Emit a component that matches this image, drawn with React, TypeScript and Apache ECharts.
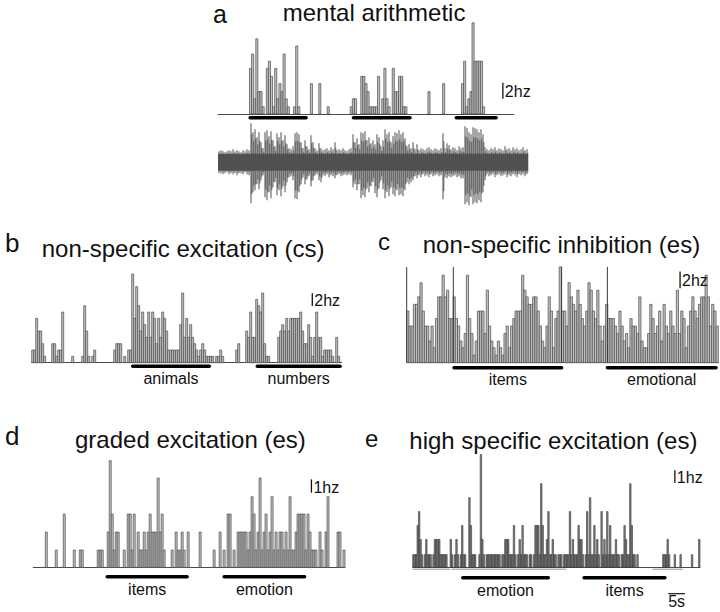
import React, { useEffect, useRef } from "react";
import * as echarts from "echarts";

const FONT = "'Liberation Sans', Arial, Helvetica, sans-serif";

// ---------- panel a : mental arithmetic (bin index, Hz) ----------
const aRate: [number, number][] = [
  [15, 5.7], [16, 7.5], [17, 1.9], [18, 9.4], [19, 2.8], [20, 2.8], [21, 0.9], [23, 5.7], [24, 6.6], [25, 4.7],
  [26, 0.9], [27, 5.7], [28, 1.9], [29, 3.8], [30, 2.8], [31, 7.5], [32, 1.9], [33, 0.9], [36, 0.9], [37, 8.5],
  [38, 0.9], [44, 3.8], [48, 3.8], [52, 0.9],
  [63, 0.9], [64, 1.9], [65, 1.9], [68, 4.7], [69, 4.7], [70, 3.8], [71, 2.8], [72, 0.9], [73, 0.9], [74, 0.9],
  [75, 0.9], [76, 4.7], [78, 1.9], [79, 5.7], [80, 1.9], [81, 0.9], [83, 5.7], [84, 2.8], [85, 2.8], [86, 4.7],
  [87, 4.7], [88, 0.9], [89, 0.9], [100, 2.8], [107, 3.8],
  [116, 3.8], [117, 6.6], [118, 0.9], [119, 1.9], [120, 2.8], [121, 11.4], [122, 6.6], [123, 6.6], [124, 6.6],
  [125, 6.6], [126, 0.9],
];
const aStim: [number, number][] = [[15.3, 42], [64.5, 77.5], [77.5, 91.5], [113.5, 132.5]];
const aStimLabels = ["", "", "", ""];

// raw recording envelope (upward / downward excursion per 2-px bin)
const traceUp = [
  11, 12, 11, 10, 11, 12, 11, 13, 11, 12,
  11, 10, 12, 11, 13, 12, 39, 30, 33, 25,
  30, 20, 14, 30, 32, 26, 31, 22, 16, 29,
  25, 30, 22, 27, 18, 14, 13, 16, 29, 30,
  28, 20, 14, 22, 16, 13, 27, 20, 14, 12,
  19, 14, 12, 13, 14, 12, 15, 13, 20, 12,
  13, 12, 14, 12, 11, 13, 14, 28, 20, 24,
  18, 30, 29, 31, 22, 25, 19, 22, 18, 28,
  25, 16, 22, 33, 28, 30, 20, 26, 30, 29,
  32, 28, 30, 24, 16, 18, 14, 20, 13, 18,
  12, 14, 13, 12, 14, 15, 13, 12, 14, 13,
  12, 14, 29, 14, 19, 17, 13, 15, 14, 12,
  16, 14, 15, 36, 34, 30, 28, 35, 34, 33,
  30, 33, 28, 15, 13, 12, 14, 13, 15, 12,
  14, 13, 12, 16, 13, 14, 12, 15, 13, 14,
  12, 13, 15, 12, 13,
];
const traceDown = [
  11, 11, 12, 11, 10, 12, 11, 12, 11, 13,
  11, 11, 12, 10, 12, 13, 41, 30, 28, 22,
  27, 18, 13, 35, 38, 30, 36, 25, 20, 33,
  28, 34, 24, 30, 20, 15, 14, 18, 36, 37,
  30, 22, 15, 22, 17, 14, 24, 18, 13, 12,
  18, 20, 13, 14, 12, 15, 13, 14, 16, 13,
  12, 14, 13, 12, 13, 12, 13, 25, 22, 28,
  22, 36, 33, 35, 26, 30, 24, 20, 31, 35,
  26, 18, 27, 36, 30, 34, 25, 32, 34, 28,
  33, 32, 34, 28, 20, 22, 20, 18, 14, 16,
  13, 15, 12, 14, 13, 15, 12, 14, 13, 12,
  14, 13, 37, 15, 16, 14, 15, 14, 13, 15,
  14, 16, 16, 42, 40, 43, 35, 42, 40, 41,
  38, 40, 30, 18, 12, 14, 13, 12, 15, 13,
  12, 14, 13, 12, 15, 13, 14, 12, 13, 15,
  12, 13, 12, 14, 12,
];
const TRACE_NOISE = 8.5;

// ---------- panel b : non-specific excitation (cs) ----------
const bRate: [number, number][] = [
  [0, 2], [1, 2], [2, 7], [3, 5], [4, 5], [5, 3], [6, 1], [10, 3], [11, 3], [12, 1], [13, 2], [14, 2], [15, 8],
  [20, 1], [25, 1], [26, 9], [27, 5], [28, 1], [30, 1], [31, 2],
  [41, 2], [42, 3], [43, 3], [44, 3], [46, 1], [48, 2], [49, 2], [50, 14], [51, 7], [52, 12], [53, 9], [54, 5],
  [55, 8], [56, 6], [57, 4], [58, 8], [59, 4], [60, 8], [61, 7], [62, 3], [63, 7], [64, 4], [65, 8], [66, 7],
  [67, 5], [68, 2], [69, 2], [70, 2], [71, 2], [72, 2], [73, 2], [74, 6], [75, 11], [76, 4], [77, 7], [78, 4],
  [79, 6], [80, 4], [81, 3], [82, 2], [83, 1], [84, 2], [85, 3], [86, 2], [87, 1], [88, 1], [89, 1], [90, 1],
  [92, 1], [93, 1], [94, 2], [95, 1],
  [102, 2], [103, 3], [107, 5], [108, 4], [109, 8], [110, 4], [111, 4], [112, 10], [113, 9], [114, 8], [115, 11],
  [116, 3], [117, 1], [118, 1],
  [123, 4], [124, 5], [125, 6], [126, 5], [127, 7], [128, 5], [129, 7], [130, 7], [131, 7], [132, 7], [133, 7],
  [134, 8], [135, 5], [136, 3], [137, 3], [138, 6], [139, 4], [140, 1], [141, 4], [142, 8], [143, 4], [144, 4],
  [145, 1], [146, 2], [147, 2], [148, 2], [149, 2], [150, 1], [152, 4], [153, 1],
];
const bStim: [number, number][] = [[50.5, 88.8], [112.8, 154.2]];
const bStimLabels = ["animals", "numbers"];

// ---------- panel c : non-specific inhibition (es) ----------
const cRate = [
  6.2, 4.4, 4.4, 7, 7, 7.9, 9.6, 6.2, 4.4, 4.4,
  2.6, 4.4, 1.8, 5.3, 7.9, 7.9, 10.5, 7.9, 8.7, 5.3,
  5.3, 7.9, 5.3, 4.4, 2.6, 1.8, 3.5, 10.5, 5.3, 3.5,
  0.9, 2.6, 6.2, 6.2, 6.2, 3.5, 8.7, 4.4, 2.6, 1.8,
  0.9, 2.6, 1.8, 0.9, 3.5, 4.4, 1.8, 4.4, 5.3, 6.2,
  6.2, 6.2, 10.5, 8.7, 7.9, 7, 7, 7.9, 7.9, 6.2,
  4.4, 2.6, 1.8, 4.4, 7.9, 6.2, 1.8, 5.3, 6.2, 11.5,
  6.2, 6.2, 4.4, 9.6, 7.9, 7, 6.2, 8.7, 7, 5.3,
  4.4, 6.2, 9.6, 8.7, 6.2, 5.3, 8.7, 4.4, 2.6, 4.4,
  7, 5.3, 5.3, 5.3, 4.4, 3.5, 6.2, 4.4, 2.6, 3.5,
  1.8, 5.3, 4.4, 4.4, 3.5, 7.9, 2.6, 1.8, 1.8, 3.5,
  7, 5.3, 3.5, 4.4, 6.2, 2.6, 7, 4.4, 3.5, 6.2,
  4.4, 3.5, 8.7, 3.5, 6.2, 5.3, 1.8, 4.4, 6.2, 7.9,
  6.2, 5.3, 7, 7.9, 7.9, 10.5, 7.9, 4.4, 7, 6.2, 4.4,
];
const cMarkers = [0, 21.1, 70.1, 90.8];
const cMarkerHeight = 11.5;
const cStim: [number, number][] = [[21.4, 70.1], [90.8, 140]];
const cStimLabels = ["items", "emotional"];

// ---------- panel d : graded excitation (es) ----------
const dRate: [number, number][] = [
  [6, 2.65], [11, 1.3], [15, 4], [20, 1.3], [23, 1.3], [24, 1.3], [32, 1.3], [33, 1.3], [34, 1.3], [37, 2.65],
  [38, 8], [39, 4], [40, 1.3], [41, 2.65], [42, 2.65], [45, 1.3], [47, 4], [48, 4], [49, 1.3], [50, 4],
  [52, 2.65], [53, 1.3], [54, 1.3], [55, 2.65], [56, 1.3], [57, 2.65], [58, 4], [59, 2.65], [60, 2.65],
  [61, 2.65], [62, 6.7], [63, 2.65], [64, 4], [65, 1.3], [69, 1.3], [71, 2.65], [72, 1.3], [73, 1.3],
  [74, 2.65], [75, 1.3], [77, 2.65], [83, 2.65], [90, 1.3], [93, 2.65], [95, 1.3], [97, 4], [98, 4],
  [100, 1.3], [102, 2.65], [103, 2.65], [104, 2.65], [105, 2.65], [106, 2.65], [107, 1.3], [108, 2.65],
  [109, 5.3], [110, 4], [111, 1.3], [112, 2.65], [113, 6.7], [114, 1.3], [115, 2.65], [116, 4], [117, 1.3],
  [118, 2.65], [119, 5.3], [120, 1.3], [121, 2.65], [122, 1.3], [123, 2.65], [124, 2.65], [125, 1.3],
  [126, 2.65], [127, 1.3], [128, 5.3], [129, 1.3], [130, 1.3], [131, 2.65], [132, 4], [133, 4], [134, 4],
  [135, 4], [136, 1.3], [137, 4], [138, 2.65], [139, 1.3], [140, 1.3], [141, 1.3], [143, 2.65], [144, 1.3],
  [146, 2.65], [147, 5.3], [152, 2.65], [153, 2.65], [155, 1.3],
];
const dStim: [number, number][] = [[37, 77], [95.5, 135.8]];
const dStimLabels = ["items", "emotion"];

// ---------- panel e : high specific excitation (es) ----------
const eRate = [
  1, 1, 1, 3.3, 4.4, 2.2, 1, 0, 1, 2.2,
  1, 1, 1, 0, 1, 2.2, 2.2, 2.2, 2.2, 1,
  1, 1, 1, 1, 0, 0, 2.2, 1, 0, 1,
  2.2, 1, 0, 1, 3.3, 1, 1, 0, 0, 5.5,
  3.3, 1, 1, 1, 0, 0, 1, 8.9, 2.2, 1,
  0, 1, 1, 1, 1, 1, 1, 1, 1, 1,
  1, 0, 1, 1, 2.2, 2.2, 2.2, 1, 1, 1,
  3.3, 1, 0, 1, 2.2, 1, 3.3, 1, 1, 1,
  0, 1, 1, 0, 1, 3.3, 3.3, 3.3, 1, 6.6,
  3.3, 1, 1, 2.2, 4.4, 1, 1, 2.2, 1, 1,
  0, 1, 1, 1, 0, 1, 1, 1, 1, 4.4,
  1, 2.2, 1, 1, 1, 3.3, 2.2, 2.2, 1, 0,
  1, 4.4, 1, 5.5, 1, 1, 3.3, 1, 2.2, 1,
  0, 4.4, 1, 2.2, 1, 4.4, 1, 3.3, 1, 1,
  1, 2.2, 1, 1, 0, 1, 1, 3.3, 2.2, 1,
  1, 6.6, 3.3, 1, 1, 0, 1, 0, 0, 0,
  0, 0, 0, 0, 0, 0, 0, 0, 0, 0,
  0, 0, 0, 0, 1, 1, 1, 2.2, 1, 0,
  0, 0, 1, 0, 0, 0, 1, 0, 0, 0,
  0, 0, 0, 0, 1, 0, 0, 0, 0, 2.2,
];
const eGaps: [number, number][] = [[0, 26], [27, 107], [167, 188]];
const eStim: [number, number][] = [[34.8, 94.4], [119.3, 175.6]];
const eStimLabels = ["emotion", "items"];
const E_BIN_SEC = 0.43;
const eTimeBar: [number, number] = [177.9, 5];

// scale bars: [bin, fromHz, toHz]
const scaleA: [number, number, number] = [135.7, 1.9, 3.9];
const scaleB: [number, number, number] = [140.3, 8.95, 10.95];
const scaleC: [number, number, number] = [123.7, 8.93, 10.93];
const scaleD: [number, number, number] = [139.2, 5.6, 6.6];
const scaleE: [number, number, number] = [182.5, 6.66, 7.66];

// ---------- layout ----------
const GRIDS = [
  { left: 218, top: 18, width: 296, height: 96, xMax: 141, yMin: 0, yMax: 12, axis: true },      // a hist
  { left: 218, top: 117.3, width: 310, height: 90, xMax: 155, yMin: -45, yMax: 45, axis: false }, // a trace
  { left: 31.7, top: 261.4, width: 310, height: 101.3, xMax: 155, yMin: 0, yMax: 16, axis: true }, // b
  { left: 406.7, top: 262.7, width: 311.6, height: 100, xMax: 141, yMin: 0, yMax: 12, axis: true }, // c
  { left: 33.3, top: 460.7, width: 311.7, height: 106.7, xMax: 156, yMin: 0, yMax: 8, axis: true }, // d
  { left: 412.7, top: 453.3, width: 287.3, height: 114, xMax: 200, yMin: 0, yMax: 9, axis: true },  // e
];

const LIGHT = { fill: "#c2c2c2", stroke: "#4a4a4a", lineWidth: 0.7 };
const DARK = { fill: "#858585", stroke: "#333333", lineWidth: 0.6 };

function histSeries(gi: number, data: [number, number][], style: any) {
  return {
    type: "custom",
    xAxisIndex: gi,
    yAxisIndex: gi,
    silent: true,
    clip: false,
    data,
    renderItem: (_p: any, api: any) => {
      const x = api.value(0);
      const v = api.value(1);
      if (!v) return null;
      const p0 = api.coord([x, 0]);
      const p1 = api.coord([x + 1, v]);
      return {
        type: "rect",
        shape: { x: p0[0], y: p1[1], width: p1[0] - p0[0], height: p0[1] - p1[1] },
        style: { ...style },
      };
    },
  };
}

function stimSeries(gi: number, intervals: [number, number][], labels: string[], barOff: number, labelOff: number) {
  return {
    type: "custom",
    xAxisIndex: gi,
    yAxisIndex: gi,
    silent: true,
    clip: false,
    data: intervals.map(([s, e]) => [s, e]),
    renderItem: (params: any, api: any) => {
      const p0 = api.coord([api.value(0), 0]);
      const p1 = api.coord([api.value(1), 0]);
      const y = p0[1] + barOff;
      const children: any[] = [
        { type: "line", shape: { x1: p0[0], y1: y, x2: p1[0], y2: y }, style: { stroke: "#000", lineWidth: 3.4, lineCap: "round" } },
      ];
      const lab = labels[params.dataIndex];
      if (lab) {
        children.push({
          type: "text",
          x: (p0[0] + p1[0]) / 2,
          y: p0[1] + labelOff,
          style: { text: lab, fontSize: 16, fontFamily: FONT, fill: "#111", align: "center", verticalAlign: "middle" },
        });
      }
      return { type: "group", children };
    },
  };
}

function scaleSeries(gi: number, sc: [number, number, number], label: string) {
  return {
    type: "custom",
    xAxisIndex: gi,
    yAxisIndex: gi,
    silent: true,
    clip: false,
    data: [sc],
    renderItem: (_p: any, api: any) => {
      const a = api.coord([api.value(0), api.value(1)]);
      const b = api.coord([api.value(0), api.value(2)]);
      return {
        type: "group",
        children: [
          { type: "line", shape: { x1: a[0], y1: a[1], x2: b[0], y2: b[1] }, style: { stroke: "#111", lineWidth: 1.3 } },
          {
            type: "text",
            x: a[0] + 2,
            y: (a[1] + b[1]) / 2 + 1,
            style: { text: label, fontSize: 16, fontFamily: FONT, fill: "#111", align: "left", verticalAlign: "middle" },
          },
        ],
      };
    },
  };
}

function buildOption() {
  const series: any[] = [];

  // panel a histogram + recording
  series.push(histSeries(0, aRate, LIGHT));
  series.push({
    type: "custom",
    xAxisIndex: 1,
    yAxisIndex: 1,
    silent: true,
    clip: false,
    data: traceUp.map((u, i) => [i, u, traceDown[i]]),
    renderItem: (_p: any, api: any) => {
      const i = api.value(0);
      const up = api.value(1);
      const dn = api.value(2);
      const c0 = api.coord([i, TRACE_NOISE]);
      const c1 = api.coord([i + 1, -TRACE_NOISE]);
      const t = api.coord([i + 0.5, up]);
      const b = api.coord([i + 0.5, -dn]);
      const t2 = api.coord([i + 0.9, up * 0.72]);
      const b2 = api.coord([i + 0.9, -dn * 0.78]);
      return {
        type: "group",
        children: [
          { type: "rect", shape: { x: c0[0], y: c0[1], width: c1[0] - c0[0], height: c1[1] - c0[1] }, style: { fill: "#494949" } },
          { type: "line", shape: { x1: t[0], y1: t[1], x2: b[0], y2: b[1] }, style: { stroke: "#5e5e5e", lineWidth: 1.1 } },
          { type: "line", shape: { x1: t2[0], y1: t2[1], x2: b2[0], y2: b2[1] }, style: { stroke: "#4a4a4a", lineWidth: 0.9 } },
        ],
      };
    },
  });
  series.push(stimSeries(0, aStim, aStimLabels, 3.7, 14));
  series.push(scaleSeries(0, scaleA, "2hz"));

  // panel b
  series.push(histSeries(2, bRate, LIGHT));
  series.push(stimSeries(2, bStim, bStimLabels, 3.6, 15.3));
  series.push(scaleSeries(2, scaleB, "2hz"));

  // panel c
  series.push(histSeries(3, cRate.map((v, i) => [i, v] as [number, number]), LIGHT));
  series.push({
    type: "custom",
    xAxisIndex: 3,
    yAxisIndex: 3,
    silent: true,
    clip: false,
    data: cMarkers.map((m) => [m, cMarkerHeight]),
    renderItem: (_p: any, api: any) => {
      const a = api.coord([api.value(0), 0]);
      const b = api.coord([api.value(0), api.value(1)]);
      return { type: "line", shape: { x1: a[0], y1: a[1], x2: b[0], y2: b[1] }, style: { stroke: "#3a3a3a", lineWidth: 1 } };
    },
  });
  series.push(stimSeries(3, cStim, cStimLabels, 5, 16.3));
  series.push(scaleSeries(3, scaleC, "2hz"));

  // panel d
  series.push(histSeries(4, dRate, LIGHT));
  series.push(stimSeries(4, dStim, dStimLabels, 9.4, 21.7));
  series.push(scaleSeries(4, scaleD, "1hz"));

  // panel e
  series.push({
    type: "custom",
    xAxisIndex: 5,
    yAxisIndex: 5,
    silent: true,
    clip: false,
    data: eGaps.map(([s, e]) => [s, e]),
    renderItem: (_p: any, api: any) => {
      const a = api.coord([api.value(0), 0]);
      const b = api.coord([api.value(1), 0]);
      return { type: "line", shape: { x1: a[0], y1: a[1] + 2, x2: b[0], y2: b[1] + 2 }, style: { stroke: "#b4b4b4", lineWidth: 1.5 } };
    },
  });
  series.push(histSeries(5, eRate.map((v, i) => [i, v] as [number, number]), DARK));
  series.push(stimSeries(5, eStim, eStimLabels, 10.4, 22.7));
  series.push(scaleSeries(5, scaleE, "1hz"));
  series.push({
    type: "custom",
    xAxisIndex: 5,
    yAxisIndex: 5,
    silent: true,
    clip: false,
    data: [[eTimeBar[0], eTimeBar[0] + eTimeBar[1] / E_BIN_SEC]],
    renderItem: (_p: any, api: any) => {
      const a = api.coord([api.value(0), 0]);
      const b = api.coord([api.value(1), 0]);
      return {
        type: "group",
        children: [
          { type: "line", shape: { x1: a[0], y1: a[1] + 26.4, x2: b[0], y2: b[1] + 26.4 }, style: { stroke: "#111", lineWidth: 1.2 } },
          {
            type: "text",
            x: (a[0] + b[0]) / 2,
            y: a[1] + 34.5,
            style: { text: eTimeBar[1] + "s", fontSize: 16, fontFamily: FONT, fill: "#111", align: "center", verticalAlign: "middle" },
          },
        ],
      };
    },
  });

  const txt = (x: number, y: number, text: string, size: number) => ({
    type: "text",
    x,
    y,
    silent: true,
    style: {
      text,
      fontSize: size,
      lineHeight: size - 4,
      fontFamily: FONT,
      fill: "#111",
      align: "left",
      verticalAlign: "middle",
    },
  });

  return {
    animation: false,
    backgroundColor: "#ffffff",
    grid: GRIDS.map((g) => ({ left: g.left, top: g.top, width: g.width, height: g.height, containLabel: false, outerBoundsMode: "none" })),
    xAxis: GRIDS.map((g, i) => ({
      type: "value",
      gridIndex: i,
      min: 0,
      max: g.xMax,
      axisLine: { show: g.axis, onZero: false, lineStyle: { color: "#4a4a4a", width: 1 } },
      axisTick: { show: false },
      axisLabel: { show: false },
      splitLine: { show: false },
    })),
    yAxis: GRIDS.map((g, i) => ({
      type: "value",
      gridIndex: i,
      min: g.yMin,
      max: g.yMax,
      show: false,
      splitLine: { show: false },
    })),
    series,
    graphic: [
      txt(213, 13.5, "a", 25),
      txt(282.7, 12.5, "mental arithmetic", 24),
      txt(5, 242.7, "b", 26),
      txt(41.7, 248.4, "non-specific excitation (cs)", 24),
      txt(378, 241.5, "c", 24),
      txt(422.7, 244, "non-specific inhibition (es)", 24),
      txt(5, 436, "d", 26),
      txt(75, 439, "graded excitation (es)", 24),
      txt(365, 438, "e", 24),
      txt(409.3, 440, "high specific excitation (es)", 24),
    ],
  };
}

export default function App() {
  const ref = useRef<HTMLDivElement>(null);
  useEffect(() => {
    if (!ref.current) return;
    const chart = echarts.init(ref.current, undefined, { renderer: "svg" });
    chart.setOption(buildOption() as any);
    return () => chart.dispose();
  }, []);
  return (
    <div
      ref={ref}
      style={{ position: "absolute", left: 0, top: 0, width: 720, height: 612, background: "#fff" }}
    />
  );
}
